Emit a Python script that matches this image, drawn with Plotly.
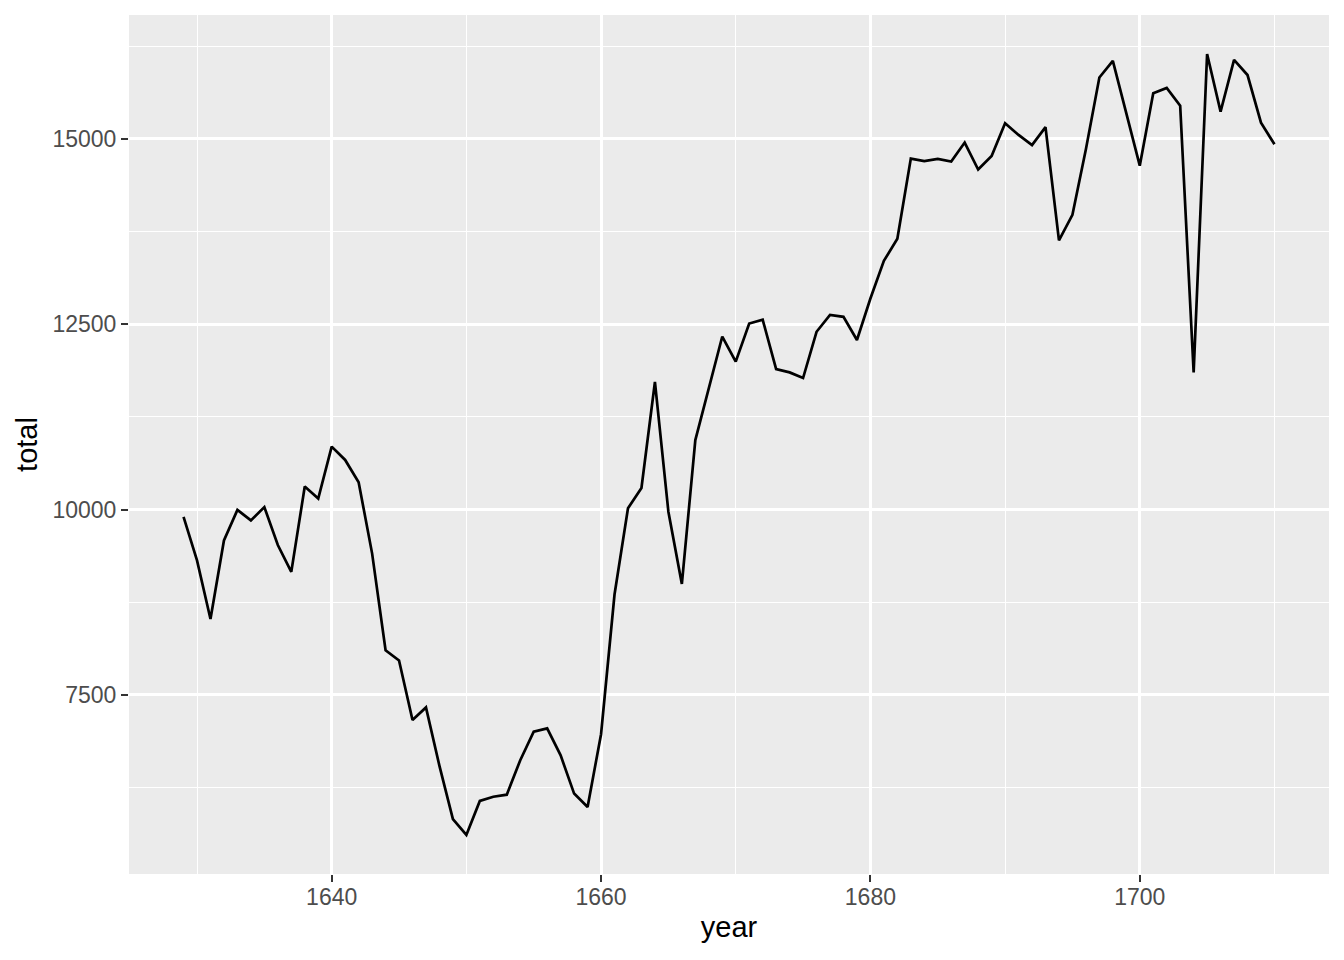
import plotly.graph_objects as go

years = list(range(1629, 1711))
total = [9901, 9315, 8524, 9584, 9997, 9855, 10034, 9522, 9160, 10311,
         10150, 10850, 10670, 10370, 9410, 8104, 7966, 7163, 7332, 6544,
         5825, 5612, 6071, 6128, 6155, 6620, 7004, 7050, 6685, 6170,
         5990, 6971, 8855, 10019, 10292, 11722, 9972, 8997, 10938, 11633,
         12335, 11997, 12510, 12563, 11895, 11851, 11775, 12399, 12626, 12601,
         12288, 12847, 13355, 13653, 14735, 14702, 14730, 14694, 14951, 14588,
         14771, 15211, 15054, 14918, 15159, 13632, 13976, 14861, 15829, 16052,
         15363, 14639, 15616, 15687, 15448, 11851, 16145, 15369, 16066, 15862,
         15220, 14928]

x_ticks = [1640, 1660, 1680, 1700]
y_ticks = [7500, 10000, 12500, 15000]

xmin, xmax = min(years), max(years)
ymin, ymax = min(total), max(total)
xpad = (xmax - xmin) * 0.05
ypad = (ymax - ymin) * 0.05

fig = go.Figure()
fig.add_trace(go.Scatter(x=years, y=total, mode="lines",
                         line=dict(color="black", width=2.7), showlegend=False,
                         hoverinfo="x+y"))

axis_common = dict(
    showline=False, zeroline=False, automargin=False,
    gridcolor="white", gridwidth=2.6,
    ticks="outside", ticklen=7, tickwidth=2.2, tickcolor="#333333",
    tickfont=dict(family="Liberation Sans, Arial, sans-serif", size=23, color="#4D4D4D"),
    title_font=dict(family="Liberation Sans, Arial, sans-serif", size=29, color="black"),
    showspikes=False,
)

fig.update_xaxes(
    range=[xmin - xpad, xmax + xpad],
    tickmode="array", tickvals=x_ticks, ticktext=[str(v) for v in x_ticks],
    minor=dict(tickmode="array", tickvals=[1630, 1650, 1670, 1690, 1710],
               showgrid=True, gridcolor="white", gridwidth=1.3, ticks=""),
    title_text="year", title_standoff=8, ticklabelstandoff=-5,
    **axis_common,
)
fig.update_yaxes(
    range=[ymin - ypad, ymax + ypad],
    tickmode="array", tickvals=y_ticks, ticktext=[str(v) for v in y_ticks],
    minor=dict(tickmode="array", tickvals=[6250, 8750, 11250, 13750, 16250],
               showgrid=True, gridcolor="white", gridwidth=1.3, ticks=""),
    title_text="total", title_standoff=6, ticklabelstandoff=0,
    **axis_common,
)

fig.update_layout(
    width=1328, height=944,
    margin=dict(l=121, r=7, t=7, b=78),
    plot_bgcolor="#EBEBEB", paper_bgcolor="white",
)

fig.write_html("out.html")
